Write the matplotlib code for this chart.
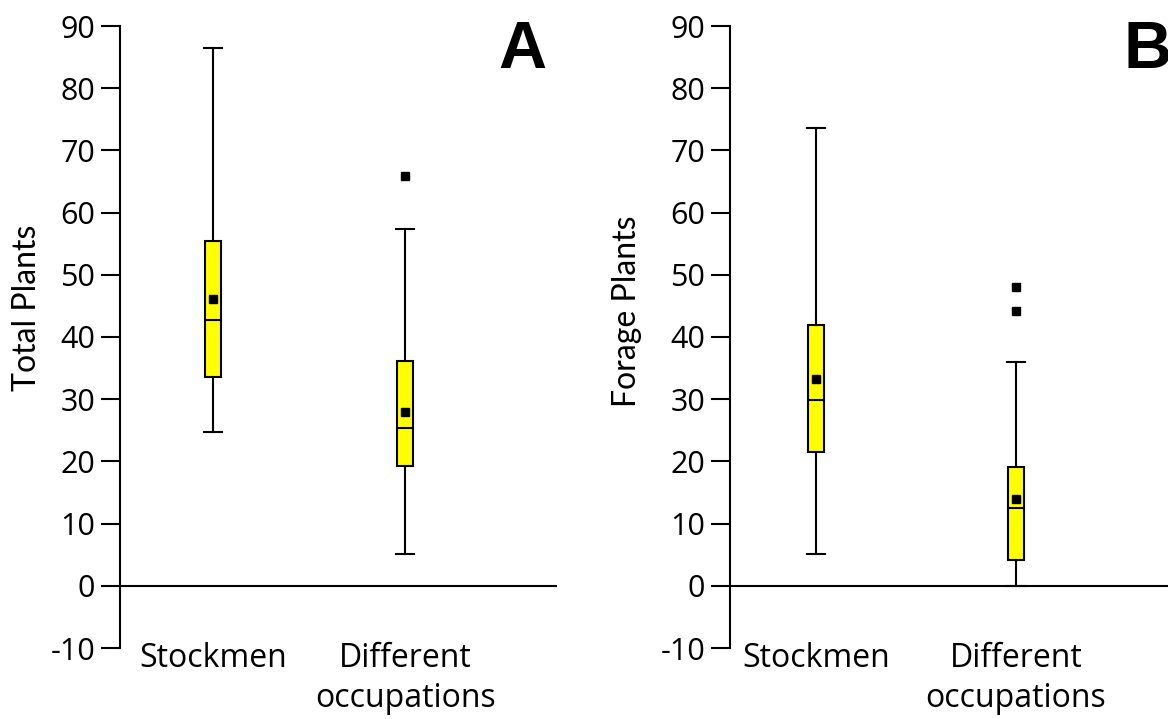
import matplotlib
matplotlib.use('Agg')
import matplotlib.pyplot as plt

plt.rcParams['font.family'] = ['Open Sans', 'DejaVu Sans']
plt.rcParams['axes.unicode_minus'] = False

categories = ['Stockmen', 'Different\noccupations']

# panel A : total plants
total_q1 = [33.6, 19.3]
total_med = [42.8, 25.4]
total_q3 = [55.5, 36.2]
total_lo = [24.8, 5.1]
total_hi = [86.5, 57.4]
total_mean = [46.1, 28.0]
total_out = [[], [65.9]]

# panel B : forage plants
forage_q1 = [21.5, 4.2]
forage_med = [29.9, 12.5]
forage_q3 = [42.0, 19.1]
forage_lo = [5.1, 0.0]
forage_hi = [73.6, 36.0]
forage_mean = [33.3, 14.0]
forage_out = [[], [48.1, 44.2]]

W, H = 1168, 719
fig = plt.figure(figsize=(W/100, H/100), dpi=100)


def make_stats(q1, med, q3, lo, hi, mean, out):
    st = []
    for i in range(len(q1)):
        st.append(dict(q1=q1[i], med=med[i], q3=q3[i], whislo=lo[i],
                       whishi=hi[i], mean=mean[i], fliers=out[i]))
    return st


def panel(left_px, width_px, xlim, stats, ylabel, ylab_x, ylab_y, letter, letter_x, letter_ha):
    ax = fig.add_axes([left_px/W, (H-648)/H, width_px/W, 622/H])
    unit = width_px / (xlim[1] - xlim[0])
    ax.bxp(stats, positions=[1, 2], widths=16/unit, capwidths=18/unit,
           showmeans=True, patch_artist=True, manage_ticks=False,
           boxprops=dict(facecolor='#FFFF00', edgecolor='black', linewidth=1.5),
           medianprops=dict(color='black', linewidth=1.5),
           whiskerprops=dict(color='black', linewidth=1.5),
           capprops=dict(color='black', linewidth=1.5),
           meanprops=dict(marker='s', markerfacecolor='black', markeredgecolor='black', markersize=6),
           flierprops=dict(marker='s', markerfacecolor='black', markeredgecolor='black', markersize=6))
    ax.axhline(0, color='black', linewidth=1.5, zorder=0)
    ax.set_xlim(xlim)
    ax.set_ylim(-10, 90)
    ax.set_yticks(range(-10, 91, 10))
    for s in ['top', 'right', 'bottom']:
        ax.spines[s].set_visible(False)
    ax.spines['left'].set_linewidth(1.5)
    ax.tick_params(axis='y', direction='out', length=14, width=1.5, labelsize=22, pad=4)
    ax.set_xticks([1, 2])
    ax.set_xticklabels(categories, fontsize=23, linespacing=1.25)
    ax.tick_params(axis='x', length=0, pad=-4)
    ax.set_ylabel(ylabel, fontsize=23, family=['Lato', 'Open Sans'])
    ax.yaxis.set_label_coords(ylab_x, ylab_y)
    fig.text(letter_x/W, 1 - 51/H, letter, fontsize=48, fontweight='bold',
             family=['Liberation Sans', 'DejaVu Sans'], ha=letter_ha, va='center')
    return ax


panel(120, 437, (0.516, 2.79),
      make_stats(total_q1, total_med, total_q3, total_lo, total_hi, total_mean, total_out),
      'Total Plants', -0.178, 0.547, 'A', 522, 'center')
panel(730, 438, (0.57, 2.76),
      make_stats(forage_q1, forage_med, forage_q3, forage_lo, forage_hi, forage_mean, forage_out),
      'Forage Plants', -0.2, 0.542, 'B', 1123, 'left')

fig.savefig('out.png', dpi=100)
